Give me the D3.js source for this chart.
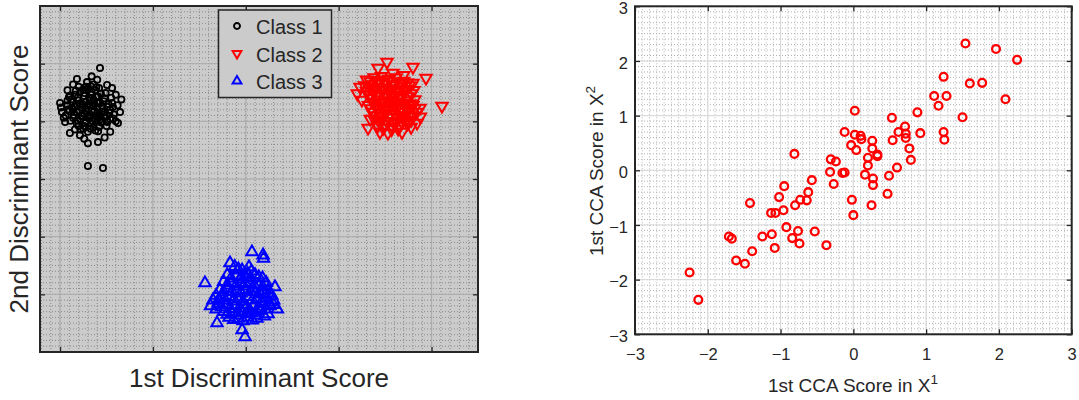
<!DOCTYPE html>
<html>
<head>
<meta charset="utf-8">
<script src="https://cdn.jsdelivr.net/npm/d3@7"></script>
<style>
  body { margin: 0; background: #fff; }
  text { font-family: "Liberation Sans", Arial, sans-serif; fill: #262626; }
</style>
</head>
<body>
<div id="svg-container"></div>
<script>
////////////////////////////////////////////////////////////////////
//////////////////////////////  Data  ///////////////////////////////
const classNames = ["Class 1", "Class 2", "Class 3"];
const ldaXTicks = [-10, -5, 0, 5, 10];
const ldaYTicks = [-10, -5, 0, 5, 10];
const ccaTicks = [-3, -2, -1, 0, 1, 2, 3];

// 1st / 2nd discriminant scores per class
const class1Scores = [
  [-7.85,9.62],[-8.50,1.13],[-7.69,0.95],[-10.0,6.6],[-9.95,6.2],[-9.9,5.8],[-9.73,4.94],[-9.47,3.99],
  [-8.93,3.8],[-8.5,3.1],[-7.96,3.2],[-6.88,4.85],[-6.77,5.8],[-7.47,8.15],[-9.09,8.67],[-8.55,8.4],
  [-9.52,7.1],[-7.0,7.3],[-7.2,7.9],[-9.3,8.2],[-8.0,8.6],[-6.9,6.4],[-7.0,5.0],[-9.8,5.3],[-9.2,4.3],
  [-8.7,3.5],[-7.6,3.6],[-7.3,4.1],[-6.7,6.9],[-8.3,8.9],[-9.6,7.7],
  [-8.9,7.6],[-8.5,7.8],[-8.1,7.7],[-7.8,7.4],[-9.2,7.3],[-8.7,7.2],[-8.3,7.3],[-7.6,7.0],[-9.4,6.9],
  [-9.0,6.8],[-8.6,6.7],[-8.2,6.9],[-7.9,6.6],[-7.4,6.5],[-9.6,6.4],[-9.2,6.3],[-8.8,6.2],[-8.4,6.4],
  [-8.0,6.2],[-7.7,6.1],[-7.3,6.0],[-9.5,5.9],[-9.1,5.8],[-8.7,5.7],[-8.3,5.9],[-7.9,5.6],[-7.5,5.5],
  [-9.3,5.3],[-8.9,5.2],[-8.5,5.4],[-8.1,5.1],[-7.7,5.0],[-7.3,5.2],[-9.1,4.8],[-8.7,4.6],[-8.3,4.8],
  [-7.9,4.5],[-7.5,4.6],[-8.9,4.3],[-8.5,4.1],[-8.1,4.2],[-8.6,8.0],[-8.2,8.2],[-7.9,7.9],[-9.0,8.0],
  [-8.4,6.8],[-8.0,6.6],[-8.8,6.5],[-8.4,5.6],[-8.0,5.7],[-8.6,5.0],[-8.2,4.5],[-7.2,6.6],[-7.1,5.6],
  [-9.7,5.5],[-9.6,6.8],[-8.6,6.1],[-8.2,6.3],[-8.0,5.3],[-8.8,5.5],[-7.6,5.8],[-9.3,6.0],[-7.8,4.9],[-9.0,4.6],
  [-8.7,7.45],[-8.3,7.55],[-7.95,7.15],[-9.05,7.05],[-8.45,7.05],[-8.05,7.15],[-7.65,6.75],[-9.35,6.65],
  [-8.95,6.45],[-8.55,6.35],[-8.15,6.55],[-7.75,6.35],[-7.45,6.25],[-9.35,6.15],[-8.95,5.95],[-8.55,5.85],
  [-8.15,5.95],[-7.75,5.85],[-7.35,5.75],[-9.25,5.55],[-8.85,5.45],[-8.45,5.25],[-8.05,5.45],[-7.65,5.35],
  [-9.05,5.05],[-8.65,4.85],[-8.25,5.05],[-7.85,5.15],[-7.45,4.95],[-8.75,4.35],[-8.35,4.35],[-7.95,4.15],
  [-8.65,7.95],[-8.35,8.05],[-8.05,7.95],[-8.75,7.75],[-9.15,7.65],[-7.55,7.45],[-7.25,7.05],[-9.45,7.25],
  [-9.55,6.05],[-9.45,5.05],[-7.15,6.25],[-7.15,5.25]
];
const class2Scores = [
  [7.6,10.14],[7.12,9.62],[9.0,9.7],[9.7,8.76],[9.0,8.32],[10.56,6.33],[6.58,4.42],[7.22,4.07],
  [7.65,3.99],[8.41,4.07],[9.22,4.86],[6.15,7.98],[6.25,6.85],[9.38,6.16],[7.92,9.19],[6.0,7.4],
  [8.5,9.0],[9.4,5.4],[8.9,4.5],[6.7,5.2],
  [6.5,8.6],[6.9,8.8],[7.3,8.9],[7.7,8.7],[8.1,8.8],[8.5,8.5],[6.4,8.1],[6.8,8.2],[7.2,8.3],[7.6,8.2],
  [8.0,8.1],[8.4,8.0],[8.8,8.1],[6.5,7.6],[6.9,7.5],[7.3,7.7],[7.7,7.6],[8.1,7.5],[8.5,7.6],[8.9,7.4],
  [6.7,7.0],[7.1,6.9],[7.5,7.1],[7.9,6.9],[8.3,7.0],[8.7,6.8],[9.1,6.9],[6.6,6.4],[7.0,6.3],[7.4,6.5],
  [7.8,6.3],[8.2,6.4],[8.6,6.2],[9.0,6.4],[6.8,5.8],[7.2,5.7],[7.6,5.9],[8.0,5.7],[8.4,5.8],[8.8,5.6],
  [9.2,5.8],[6.9,5.2],[7.3,5.1],[7.7,5.3],[8.1,5.0],[8.5,5.2],[8.9,5.1],[7.1,4.6],[7.5,4.7],[7.9,4.5],
  [8.3,4.6],[8.7,4.8],[7.4,6.0],[8.0,6.7],[7.6,7.3],[8.3,5.5],[7.0,7.2],
  [6.7,8.45],[7.1,8.55],[7.5,8.6],[7.9,8.45],[8.3,8.3],[8.7,8.35],[6.65,7.85],[7.05,7.95],[7.45,7.9],
  [7.85,7.85],[8.25,7.75],[8.65,7.8],[9.05,7.7],[6.7,7.3],[7.1,7.35],[7.5,7.4],[7.9,7.25],[8.3,7.3],
  [8.7,7.15],[6.85,6.7],[7.25,6.65],[7.65,6.75],[8.05,6.5],[8.45,6.6],[8.85,6.55],[6.75,6.1],[7.15,6.05],
  [7.55,6.2],[7.95,6.05],[8.35,6.1],[8.75,5.95],[9.1,6.1],[6.95,5.5],[7.35,5.45],[7.75,5.6],[8.15,5.35],
  [8.55,5.5],[8.95,5.4],[7.2,4.9],[7.6,5.0],[8.0,4.8],[8.4,4.9],[8.8,5.0],[7.4,4.4],[7.85,4.3],[8.2,4.35]
];
const class3Scores = [
  [-2.20,-9.02],[-1.55,-12.49],[-0.2,-13.09],[-0.04,-13.7],[0.33,-6.33],[0.93,-6.6],[1.57,-9.36],
  [-0.85,-7.28],[0.17,-7.63],[-1.77,-10.5],[0.95,-6.9],[1.5,-10.9],[1.7,-11.3],[-1.9,-11.0],
  [-0.6,-7.6],[-0.2,-7.9],[0.3,-8.0],[-1.0,-8.3],[-0.5,-8.4],[0.0,-8.5],[0.5,-8.3],[0.9,-8.6],
  [-1.2,-8.9],[-0.8,-9.0],[-0.3,-9.1],[0.2,-9.0],[0.7,-9.2],[1.1,-9.0],[-1.4,-9.6],[-1.0,-9.5],
  [-0.5,-9.7],[0.0,-9.6],[0.5,-9.8],[1.0,-9.7],[1.3,-9.9],[-1.3,-10.3],[-0.9,-10.2],[-0.4,-10.4],
  [0.1,-10.2],[0.6,-10.4],[1.1,-10.3],[-1.5,-10.8],[-1.1,-10.9],[-0.6,-11.0],[-0.1,-10.9],[0.4,-11.0],
  [0.9,-10.8],[1.3,-11.0],[-1.2,-11.5],[-0.7,-11.6],[-0.2,-11.5],[0.3,-11.6],[0.8,-11.4],[1.2,-11.7],
  [-0.9,-12.0],[-0.4,-12.1],[0.1,-12.0],[0.6,-12.1],[-0.3,-8.7],[0.4,-9.5],[-0.7,-10.6],[0.8,-10.0],
  [0.0,-11.2],[-1.6,-10.1],[1.5,-10.5],[-0.1,-9.3],
  [-0.4,-7.8],[0.1,-8.2],[-0.8,-8.6],[-0.25,-8.5],[0.25,-8.6],[0.7,-8.5],[-1.0,-9.2],[-0.55,-9.3],
  [-0.05,-9.0],[0.45,-9.2],[0.9,-9.35],[-1.2,-9.8],[-0.75,-9.75],[-0.25,-9.9],[0.25,-9.75],[0.75,-9.9],
  [1.2,-9.6],[-1.1,-10.5],[-0.65,-10.4],[-0.15,-10.6],[0.35,-10.5],[0.85,-10.6],[1.25,-10.7],[-1.3,-11.1],
  [-0.85,-11.25],[-0.35,-11.2],[0.15,-11.35],[0.65,-11.2],[1.05,-11.3],[-1.0,-11.75],[-0.45,-11.8],
  [0.05,-11.7],[0.55,-11.8],[1.0,-11.9],[-0.65,-12.2],[-0.15,-12.3],[0.35,-12.25],[-1.45,-10.45],
  [1.4,-10.1],[-1.6,-11.3]
];

// 1st canonical scores
const ccaScoreX1 = [1.54,1.96,2.25,1.24,1.60,1.77,1.11,1.28,1.17,2.09,1.50,1.24,1.25,0.02,0.88,0.53,0.92,
  0.71,0.62,0.72,0.72,0.54,0.77,0.79,0.60,0.49,0.47,-0.12,0.02,0.10,0.11,0.26,-0.03,0.04,0.26,0.33,0.33,
  0.20,0.20,0.16,0.27,0.27,0.25,-0.02,0.00,-0.31,-0.24,-0.32,-0.15,-0.12,-0.27,-0.81,-0.57,-0.95,-0.62,
  -0.64,-0.73,-0.80,-1.02,-0.96,-1.42,-1.13,-1.07,-0.92,-0.76,-0.53,-0.84,-0.74,-0.37,-1.12,-1.25,-1.08,
  -1.71,-1.67,-1.39,-1.61,-1.49,-2.25,-2.13];
const ccaScoreX2 = [2.32,2.22,2.02,1.71,1.59,1.60,1.36,1.36,1.18,1.30,0.97,0.70,0.56,1.09,1.06,0.96,0.68,
  0.80,0.70,0.67,0.59,0.55,0.40,0.19,0.05,-0.10,-0.43,0.70,0.65,0.63,0.57,0.54,0.46,0.37,0.40,0.29,0.26,
  0.23,0.09,-0.08,-0.15,-0.27,-0.64,-0.54,-0.82,0.20,0.16,-0.03,-0.05,-0.04,-0.25,0.30,-0.18,-0.29,-0.40,
  -0.55,-0.54,-0.64,-0.49,-0.73,-0.60,-0.78,-0.78,-1.04,-1.11,-1.12,-1.24,-1.34,-1.37,-1.17,-1.21,-1.42,
  -1.21,-1.25,-1.48,-1.65,-1.71,-1.87,-2.37];

////////////////////////////////////////////////////////////////////
//////////////////////////////  Init  ///////////////////////////////
const width = 1079, height = 400;
const axisColor = "#262626";
const svg = d3.select("#svg-container").append("svg")
  .attr("width", width).attr("height", height);

const classColors = ["#000000", "#ff0000", "#0000ff"];
const triUp = d3.symbol().type(d3.symbolTriangle).size(56);

function drawGrid(g, x, y, xTicks, yTicks, majorColor, minorColor) {
  const [x0, x1] = x.domain(), [y0, y1] = y.domain();
  const xStep = (xTicks[1] - xTicks[0]) / 10, yStep = (yTicks[1] - yTicks[0]) / 10;
  const xMinor = d3.range(Math.ceil(x0 / xStep), Math.floor(x1 / xStep) + 1).map(i => i * xStep);
  const yMinor = d3.range(Math.ceil(y0 / yStep), Math.floor(y1 / yStep) + 1).map(i => i * yStep);
  g.append("g").selectAll("line").data(xMinor).enter().append("line")
    .attr("x1", d => x(d)).attr("x2", d => x(d)).attr("y1", y.range()[0]).attr("y2", y.range()[1])
    .attr("stroke", minorColor).attr("stroke-dasharray", "1,2");
  g.append("g").selectAll("line").data(yMinor).enter().append("line")
    .attr("y1", d => y(d)).attr("y2", d => y(d)).attr("x1", x.range()[0]).attr("x2", x.range()[1])
    .attr("stroke", minorColor).attr("stroke-dasharray", "1,2");
  g.append("g").selectAll("line").data(xTicks).enter().append("line")
    .attr("x1", d => x(d)).attr("x2", d => x(d)).attr("y1", y.range()[0]).attr("y2", y.range()[1])
    .attr("stroke", majorColor);
  g.append("g").selectAll("line").data(yTicks).enter().append("line")
    .attr("y1", d => y(d)).attr("y2", d => y(d)).attr("x1", x.range()[0]).attr("x2", x.range()[1])
    .attr("stroke", majorColor);
}

function drawAxes(g, x, y, xTicks, yTicks, labels) {
  const [l, r] = x.range(), [b, t] = y.range();
  const fmt = labels ? d3.format("d") : () => "";
  const add = (axis, tr) => {
    const a = g.append("g").attr("transform", tr).call(axis);
    a.select(".domain").remove();
    a.selectAll(".tick line").attr("stroke", axisColor).attr("stroke-width", 1.3);
    a.selectAll("text").attr("font-size", 16.5).attr("fill", axisColor)
      .style("font-family", '"Liberation Sans", Arial, sans-serif');
    return a;
  };
  add(d3.axisBottom(x).tickValues(xTicks).tickSizeInner(-5).tickSizeOuter(0).tickPadding(14.3).tickFormat(fmt), `translate(0,${b})`);
  add(d3.axisTop(x).tickValues(xTicks).tickSizeInner(-5).tickSizeOuter(0).tickFormat(""), `translate(0,${t})`);
  add(d3.axisLeft(y).tickValues(yTicks).tickSizeInner(-5).tickSizeOuter(0).tickPadding(7).tickFormat(fmt), `translate(${l},0)`)
    .selectAll("text").attr("dy", "0.44em");
  add(d3.axisRight(y).tickValues(yTicks).tickSizeInner(-5).tickSizeOuter(0).tickFormat(""), `translate(${r},0)`);
  g.append("rect").attr("x", l).attr("y", t).attr("width", r - l).attr("height", b - t)
    .attr("fill", "none").attr("stroke", axisColor).attr("stroke-width", 2);
}

////////////////////////////////////////////////////////////////////
//////////////////////////  Left: LDA  //////////////////////////////
const xL = d3.scaleLinear().domain([-11.08, 12.5]).range([40, 478]);
const yL = d3.scaleLinear().domain([-15, 15]).range([352, 6]);
const left = svg.append("g");

left.append("rect").attr("x", 40).attr("y", 6).attr("width", 438).attr("height", 346).attr("fill", "#cbcbcb");
drawGrid(left, xL, yL, ldaXTicks, ldaYTicks, "#acacac", "#8a8a8a");

// class 1: circles
left.append("g").selectAll("circle").data(class1Scores).enter().append("circle")
  .attr("cx", d => xL(d[0])).attr("cy", d => yL(d[1])).attr("r", 3.1)
  .attr("fill", "none").attr("stroke", classColors[0]).attr("stroke-width", 1.8);
// class 2: down triangles
left.append("g").selectAll("path").data(class2Scores).enter().append("path")
  .attr("d", triUp)
  .attr("transform", d => `translate(${xL(d[0])},${yL(d[1])}) rotate(180)`)
  .attr("fill", "none").attr("stroke", classColors[1]).attr("stroke-width", 2);
// class 3: up triangles
left.append("g").selectAll("path").data(class3Scores).enter().append("path")
  .attr("d", triUp)
  .attr("transform", d => `translate(${xL(d[0])},${yL(d[1])})`)
  .attr("fill", "none").attr("stroke", classColors[2]).attr("stroke-width", 2);

drawAxes(left, xL, yL, ldaXTicks, ldaYTicks, false);

left.append("text").attr("x", 259).attr("y", 387).attr("text-anchor", "middle")
  .attr("font-size", 26).text("1st Discriminant Score");
left.append("text").attr("transform", "translate(28,179) rotate(-90)").attr("text-anchor", "middle")
  .attr("font-size", 26).text("2nd Discriminant Score");

// legend
const legend = left.append("g");
legend.append("rect").attr("x", 218.5).attr("y", 10).attr("width", 113).attr("height", 87.5)
  .attr("fill", "#cbcbcb").attr("stroke", axisColor).attr("stroke-width", 1.5);
const legRows = legend.selectAll("g.row").data(classNames).enter().append("g")
  .attr("transform", (d, i) => `translate(237,${26 + i * 27.5})`);
legRows.each(function (d, i) {
  const g = d3.select(this);
  if (i === 0) {
    g.append("circle").attr("r", 3).attr("fill", "none").attr("stroke", classColors[0]).attr("stroke-width", 1.9);
  } else {
    g.append("path").attr("d", d3.symbol().type(d3.symbolTriangle).size(34))
      .attr("transform", i === 1 ? "rotate(180)" : null)
      .attr("fill", "none").attr("stroke", classColors[i]).attr("stroke-width", 2);
  }
  g.append("text").attr("x", 19).attr("y", 8).attr("font-size", 20).attr("fill", "#000").text(d);
});

////////////////////////////////////////////////////////////////////
//////////////////////////  Right: CCA  /////////////////////////////
const xR = d3.scaleLinear().domain([-3, 3]).range([635, 1071.7]);
const yR = d3.scaleLinear().domain([-3, 3]).range([334.3, 6.3]);
const right = svg.append("g");

right.append("rect").attr("x", 635).attr("y", 6.3).attr("width", 436.7).attr("height", 328).attr("fill", "#fff");
drawGrid(right, xR, yR, ccaTicks, ccaTicks, "#d8d8d8", "#b2b2b2");

right.append("g").selectAll("circle").data(ccaScoreX1.map((v, i) => [v, ccaScoreX2[i]])).enter().append("circle")
  .attr("cx", d => xR(d[0])).attr("cy", d => yR(d[1])).attr("r", 3.9)
  .attr("fill", "none").attr("stroke", "#ff0000").attr("stroke-width", 2.3);

drawAxes(right, xR, yR, ccaTicks, ccaTicks, true);

const xLab = right.append("text").attr("x", 853).attr("y", 392).attr("text-anchor", "middle").attr("font-size", 19);
xLab.append("tspan").text("1st CCA Score in X");
xLab.append("tspan").attr("dy", -8).attr("font-size", 13.5).text("1");

const yLab = right.append("text").attr("transform", "translate(603,171) rotate(-90)").attr("text-anchor", "middle").attr("font-size", 19);
yLab.append("tspan").text("1st CCA Score in X");
yLab.append("tspan").attr("dy", -8).attr("font-size", 13.5).text("2");
</script>
</body>
</html>
